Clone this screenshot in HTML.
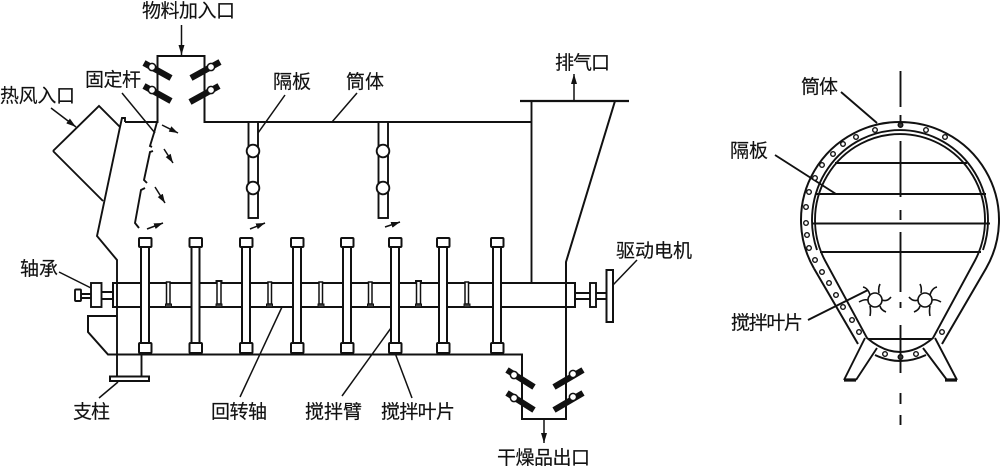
<!DOCTYPE html>
<html lang="zh"><head><meta charset="utf-8"><title>Diagram</title>
<style>
html,body{margin:0;padding:0;background:#fff;width:1000px;height:467px;overflow:hidden}
svg{display:block}
text{font-family:"Liberation Sans","Noto Sans CJK SC",sans-serif;font-size:19px;fill:#111;stroke:#111;stroke-width:.15}
</style></head><body>
<svg width="1000" height="467" viewBox="0 0 1000 467" xmlns="http://www.w3.org/2000/svg">
<defs>
<marker id="a" markerWidth="10" markerHeight="8" refX="9" refY="4" orient="auto" markerUnits="userSpaceOnUse"><path d="M0,1 L9,4 L0,7 Z" fill="#111"/></marker>
<marker id="b" markerWidth="11" markerHeight="8" refX="10" refY="4" orient="auto" markerUnits="userSpaceOnUse"><path d="M0,1 L10,4 L0,7 Z" fill="#111"/></marker>
</defs>
<rect width="1000" height="467" fill="#fff"/>
<g fill="none" stroke="#111" stroke-width="1.9">
<!-- body outline -->
<path d="M125,122 H157.5 V56 H204.5 V122 H531.5" stroke-width="2"/>
<path d="M120,127 L122,118 L125,118 L125,122"/>
<path d="M53,151 L99,106 L120,127 L97,236 L117,260 V377"/>
<path d="M53,151 L103,201"/>
<path d="M531.5,101 V283"/>
<path d="M520,101 H629" stroke-width="2.3"/>
<path d="M615,101 L566,262 V419 H522 V354.5 H108 L88,332 V316 H117" stroke-width="2"/>
<path d="M141.5,354 V377"/>
<rect x="110" y="376.5" width="39" height="4.5" stroke-width="2"/>
<!-- shaft -->
<rect x="113" y="283" width="462" height="24" stroke-width="2"/>
<path d="M575,293 H590 M575,299 H590 M596,293 H606 M596,299 H606"/>
<rect x="590" y="283" width="6" height="24"/>
<rect x="606.5" y="270" width="6.5" height="52" stroke-width="2"/>
<rect x="91" y="283" width="10.5" height="24"/>
<path d="M101.5,292 H113 M101.5,299 H113 M81,294 H91 M81,298 H91"/>
<rect x="75" y="289.5" width="6" height="11.5" rx="1"/>
<!-- fixed rod dashes -->
<path d="M157,122 L154,133 L150,146 L152,147"/>
<path d="M153,151 L150,152 L144,180 L147,183"/>
<path d="M145,188 L141,190 L135,223 L139,228"/>
<!-- baffles -->
<rect x="248.5" y="122" width="9.5" height="96" fill="#fff"/>
<rect x="378.5" y="122" width="9.5" height="96" fill="#fff"/>
<g fill="#fff"><circle cx="253" cy="151" r="6.3"/><circle cx="253" cy="188" r="6.3"/><circle cx="383" cy="151" r="6.3"/><circle cx="383" cy="188" r="6.3"/></g>
</g>
<!-- stirring arms -->
<g fill="#fff" stroke="#111" stroke-width="2">
<g>
<rect x="141" y="247" width="8" height="96"/><rect x="191.500" y="247" width="8" height="96"/><rect x="242" y="247" width="8" height="96"/><rect x="293" y="247" width="8" height="96"/><rect x="343" y="247" width="8" height="96"/><rect x="391" y="247" width="8" height="96"/><rect x="439" y="247" width="8" height="96"/><rect x="493" y="247" width="8" height="96"/>
<rect x="139" y="238" width="12.500" height="9" rx="1"/><rect x="189.500" y="238" width="12.500" height="9" rx="1"/><rect x="240" y="238" width="12.500" height="9" rx="1"/><rect x="291" y="238" width="12.500" height="9" rx="1"/><rect x="341" y="238" width="12.500" height="9" rx="1"/><rect x="389" y="238" width="12.500" height="9" rx="1"/><rect x="437" y="238" width="12.500" height="9" rx="1"/><rect x="491" y="238" width="12.500" height="9" rx="1"/>
<rect x="139" y="343" width="12.500" height="10" rx="1"/><rect x="189.500" y="343" width="12.500" height="10" rx="1"/><rect x="240" y="343" width="12.500" height="10" rx="1"/><rect x="291" y="343" width="12.500" height="10" rx="1"/><rect x="341" y="343" width="12.500" height="10" rx="1"/><rect x="389" y="343" width="12.500" height="10" rx="1"/><rect x="437" y="343" width="12.500" height="10" rx="1"/><rect x="491" y="343" width="12.500" height="10" rx="1"/>
</g>
<g stroke-width="1.5">
<rect x="166.500" y="282" width="3.500" height="22"/><rect x="217" y="281" width="4" height="23"/><rect x="268" y="282" width="3.500" height="22"/><rect x="319" y="282" width="3.500" height="22"/><rect x="368.500" y="282" width="3.500" height="22"/><rect x="416.500" y="281" width="4" height="23"/><rect x="465" y="282" width="3.500" height="22"/>
</g>
<g fill="#444" stroke-width="1">
<rect x="165.500" y="304" width="6" height="3"/><rect x="216" y="304" width="6" height="3"/><rect x="266.500" y="304" width="6" height="3"/><rect x="318" y="304" width="6" height="3"/><rect x="367.500" y="304" width="6" height="3"/><rect x="415.500" y="304" width="6" height="3"/><rect x="464" y="304" width="6" height="3"/>
</g>
<path d="M215.500,281 H222.500" stroke-width="2"/><path d="M415,281 H422" stroke-width="2"/>
</g>
<!-- paddles -->
<g stroke="#111" stroke-width="6.200" fill="none">
<path d="M144,63 L171,78 M144,86 L171,101 M220,62 L191,78 M219,86 L190,102"/>
<path d="M507,370 L534,387 M507,393 L534,410 M583,370 L554,387 M583,393 L554,410"/>
</g>
<g fill="#fff" stroke="#111" stroke-width="1.500">
<circle cx="152" cy="67" r="3.600"/><circle cx="152" cy="90" r="3.600"/><circle cx="211" cy="67" r="3.600"/><circle cx="211" cy="90" r="3.600"/>
<circle cx="514" cy="375" r="3.600"/><circle cx="514" cy="398" r="3.600"/><circle cx="573" cy="374" r="3.600"/><circle cx="573" cy="397" r="3.600"/>
</g>
<!-- flow arrows -->
<g stroke="#111" stroke-width="1.500" fill="none">
<path d="M162,125 L178,133" marker-end="url(#a)"/>
<path d="M164,149 L173,163" marker-end="url(#a)"/>
<path d="M155,187 L165,203" marker-end="url(#a)"/>
<path d="M147,229 L163,223" marker-end="url(#a)"/>
<path d="M250,229 L265,223" marker-end="url(#a)"/>
<path d="M385,227 L400,222" marker-end="url(#a)"/>
<path d="M181.500,25 V55" marker-end="url(#b)"/>
<path d="M574,101 V74" marker-end="url(#b)"/>
<path d="M544,419 V443" marker-end="url(#b)"/>
<path d="M51,108 L76,127" marker-end="url(#b)"/>
<!-- leaders -->
<path d="M122,93 L155,133"/>
<path d="M285,95 L258,133"/>
<path d="M357,93 L332,122"/>
<path d="M59,272 L91,288"/>
<path d="M240,397 L282,307"/>
<path d="M342,396 L391,328"/>
<path d="M412,398 L395,353"/>
<path d="M99,398 L118,382"/>
<path d="M613,285 L637,260"/>
</g>
<!-- right view -->
<g fill="none" stroke="#111" stroke-width="1.900">
<path d="M814,268.500 A99,98 0 1 1 986,268.500 L942,344" stroke-width="2"/>
<path d="M814,268.500 L858,344" stroke-width="2"/>
<path d="M875,355 Q900,367 926,355" stroke-width="2"/>
<path d="M825,260.500 A85,86 0 1 1 975,260.500 L933,338 Q900,366 867,338 Z"/>
<path d="M817,250 A88,90 0 1 1 983,250"/>
<path d="M865,338 L844,380 M877,348 L856,380 M935,338 L957,380 M923,348 L947,380"/>
<path d="M844,380 H856 M945,380 H957" stroke-width="3.200"/>
<path d="M835,163 H967 M815,194 H986 M813,223.500 H990 M820,252 H981 M868,339 H932" stroke-width="2"/>
<path d="M900.500,71 V107 M900.500,115 V127 M900.500,141 V197 M900.500,210 V220 M900.500,232 V292 M900.500,302 V308 M900.500,325 V373 M900.500,393 V404 M900.500,415 V425"/>
<path d="M775,155 L836,194 M841,92 L877,123 M808,320 L868,290"/>
<g stroke-width="1.400" fill="#fff">
<circle cx="875" cy="130" r="2.300"/><circle cx="856" cy="137" r="2.300"/><circle cx="843" cy="144" r="2.300"/><circle cx="833" cy="154" r="2.300"/><circle cx="822" cy="165" r="2.300"/><circle cx="815" cy="178" r="2.300"/><circle cx="809" cy="192" r="2.300"/><circle cx="806" cy="207" r="2.300"/><circle cx="806" cy="223" r="2.300"/><circle cx="807" cy="235" r="2.300"/><circle cx="809" cy="248" r="2.300"/><circle cx="815" cy="260" r="2.300"/><circle cx="822" cy="272" r="2.300"/><circle cx="829" cy="283" r="2.300"/><circle cx="836" cy="295" r="2.300"/><circle cx="843" cy="307" r="2.300"/><circle cx="852" cy="320" r="2.300"/><circle cx="859" cy="332" r="2.300"/><circle cx="885" cy="354" r="2.300"/><circle cx="916" cy="354" r="2.300"/><circle cx="926" cy="130" r="2.300"/><circle cx="945" cy="137" r="2.300"/><circle cx="942" cy="332" r="2.300"/>
<circle cx="900.500" cy="125" r="2.300" fill="#333"/><circle cx="900.500" cy="357" r="2.300" fill="#333"/>
</g>
<g transform="translate(875,300)" stroke-width="1.600">
<circle r="7"/>
<path d="M-5,-5 Q-7,-12 -12,-13 M4,-7 Q3,-12 5,-16 M7,0 Q12,2 16,-3 M5,6 Q6,10 11,12 M-5,6 Q-4,11 -5,16 M-7,0 Q-11,-1 -16,2"/>
</g>
<g transform="translate(925,300) scale(-1,1)" stroke-width="1.600">
<circle r="7"/>
<path d="M-5,-5 Q-7,-12 -12,-13 M4,-7 Q3,-12 5,-16 M7,0 Q12,2 16,-3 M5,6 Q6,10 11,12 M-5,6 Q-4,11 -5,16 M-7,0 Q-11,-1 -16,2"/>
</g>
</g>
<!-- labels -->
<text x="142" y="17" textLength="93">物料加入口</text>
<text x="85" y="86" textLength="56">固定杆</text>
<text x="0" y="102" textLength="75">热风入口</text>
<text x="273" y="88" textLength="38">隔板</text>
<text x="346" y="88" textLength="38">筒体</text>
<text x="555" y="69" textLength="55">排气口</text>
<text x="616" y="257" textLength="76">驱动电机</text>
<text x="20" y="275" textLength="38">轴承</text>
<text x="73" y="418" textLength="37">支柱</text>
<text x="211" y="418" textLength="56">回转轴</text>
<text x="305" y="418" textLength="57">搅拌臂</text>
<text x="381" y="418" textLength="74">搅拌叶片</text>
<text x="497" y="464" textLength="93">干燥品出口</text>
<text x="801" y="93" textLength="37">筒体</text>
<text x="730" y="157" textLength="38">隔板</text>
<text x="731" y="329" textLength="72">搅拌叶片</text>
</svg>
</body></html>
